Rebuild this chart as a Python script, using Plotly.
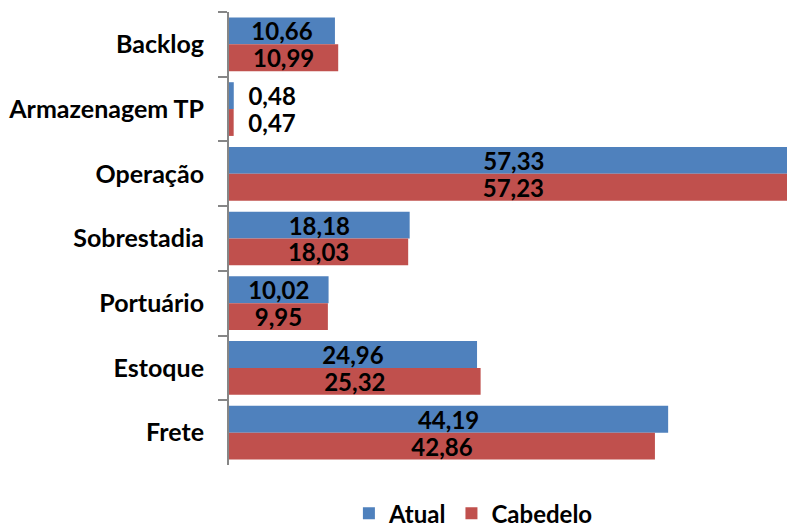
import plotly.graph_objects as go

categories = ["Backlog", "Armazenagem TP", "Operação", "Sobrestadia", "Portuário", "Estoque", "Frete"]
atual = [10.66, 0.48, 57.33, 18.18, 10.02, 24.96, 44.19]
cabedelo = [10.99, 0.47, 57.23, 18.03, 9.95, 25.32, 42.86]

BLUE = "#4F81BD"
RED = "#C0504D"
FONT = "Lato"


def fmt(v):
    return f"{v:.2f}".replace(".", ",")


def labels(values):
    # small bars get their label outside, pushed a little to the right
    return [fmt(v) if v > 5 else "\u00a0\u00a0" + fmt(v) for v in values]


def positions(values):
    return ["inside" if v > 5 else "outside" for v in values]


fig = go.Figure()
for name, vals, color in [("Atual", atual, BLUE), ("Cabedelo", cabedelo, RED)]:
    fig.add_trace(go.Bar(
        y=categories, x=vals, name=name, orientation="h",
        marker=dict(color=color, line=dict(width=0)),
        text=labels(vals), textposition=positions(vals),
        insidetextanchor="middle", constraintext="none",
        textfont=dict(family=FONT, size=24, color="black", weight="bold"),
        cliponaxis=True,
    ))

fig.update_layout(
    width=787, height=528,
    margin=dict(l=229, r=0, t=12, b=63),
    paper_bgcolor="white", plot_bgcolor="white",
    barmode="group", bargap=0.17, bargroupgap=0,
    font=dict(family=FONT, size=20, color="black"),
    showlegend=True,
    legend=dict(
        orientation="h", x=0.438, xanchor="center",
        y=0.027, yanchor="middle", yref="container",
        font=dict(family=FONT, size=24, color="black", weight="bold"),
        traceorder="normal", itemwidth=30, tracegroupgap=0,
    ),
    xaxis=dict(range=[0, 56.15], showgrid=False, zeroline=False,
               showticklabels=False, showline=False, ticks=""),
    yaxis=dict(autorange="reversed", showgrid=False, zeroline=False,
               showline=True, linecolor="#868686", linewidth=2,
               ticks="outside", tickson="boundaries", ticklen=9,
               tickcolor="#868686", tickwidth=2, ticklabelstandoff=18,
               tickfont=dict(family=FONT, size=25, color="black", weight="bold")),
)

fig.write_html("out.html")
